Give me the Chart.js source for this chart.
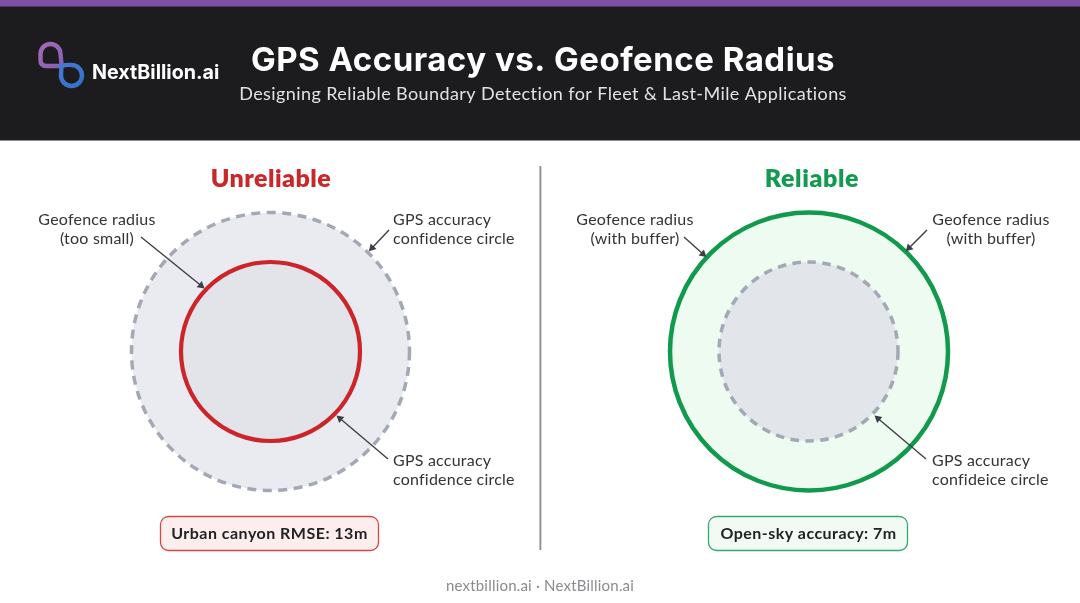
<!DOCTYPE html>
<html><head><meta charset="utf-8">
<style>html,body{margin:0;padding:0;background:#fff;overflow:hidden}#w{position:absolute;left:0;top:0;width:1080px;height:603px}</style>
<script src="https://cdn.jsdelivr.net/npm/chart.js@4"></script></head>
<body><div id="w"><canvas id="c" width="1080" height="603"></canvas></div>
<script>
// Circles (centre x, centre y, radius in image pixels)
const circleNames = ['GPS accuracy (unreliable)','Geofence (too small)','Geofence (with buffer)','GPS accuracy (reliable)'];
const circleX = [270.5,270.5,809,808.5];
const circleY = [351.5,351.5,351.5,351.5];
const circleR = [139,89.5,139,89.5];
const circleFill = ['#e9ebf0','#e3e4e9','#eefbf0','#e2e5e9'];
const circleStroke = ['#a3a8b4','#cc2529','#119a4e','#a3a8b4'];
const circleWidth = [3.5,4.2,4.5,3.5];
const circleDash = [[9,6.5],[],[],[8.5,6.5]];
// Leader arrows: start and head centre
const arrowStartX = [141,389,388,684,927,926];
const arrowStartY = [237,230,459,237,230,459];
const arrowTipX = [201,372,340,703,909,878];
const arrowTipY = [285.5,248,418.5,254,248,418.5];
// Texts
const titleText = 'GPS Accuracy vs. Geofence Radius';
const subtitleText = 'Designing Reliable Boundary Detection for Fleet & Last-Mile Applications';
const brandText = 'NextBillion.ai';
const panelTitles = ['Unreliable','Reliable'];
const pillTexts = ['Urban canyon RMSE: 13m','Open-sky accuracy: 7m'];
const footerText = 'nextbillion.ai · NextBillion.ai';

const BODY = 'Lato, sans-serif';
const labels = [
 ['Geofence radius',97,225,'center'],['(too small)',97,244,'center'],
 ['GPS accuracy',393,225,'left'],['confidence circle',393,244,'left'],
 ['GPS accuracy',393,466,'left'],['confidence circle',393,485,'left'],
 ['Geofence radius',635,225,'center'],['(with buffer)',635,244,'center'],
 ['Geofence radius',991,225,'center'],['(with buffer)',991,244,'center'],
 ['GPS accuracy',932,466,'left'],['confideice circle',932,485,'left']
];

function txt(ctx,s,x,y,font,color,align,ls){
  ctx.font=font;ctx.fillStyle=color;ctx.textAlign=align||'left';ctx.textBaseline='alphabetic';
  ctx.letterSpacing=(ls||0)+'px';ctx.fillText(s,x,y);ctx.letterSpacing='0px';
}
function pill(ctx,x,y,w,h,fill,stroke){
  ctx.beginPath();ctx.roundRect(x,y,w,h,8);ctx.fillStyle=fill;ctx.fill();
  ctx.lineWidth=1.3;ctx.strokeStyle=stroke;ctx.stroke();
}
const backdrop={id:'backdrop',beforeDatasetsDraw(ch){
  const c=ch.ctx;c.save();
  c.fillStyle='#1c1c1e';c.fillRect(0,6,1080,134.5);
  c.fillStyle='#7f4fa5';c.fillRect(0,0,1080,6.5);
  c.fillStyle='#8c8c8c';c.fillRect(539.5,166,1.8,384);
  c.restore();
}};
const dash={id:'dash',
  beforeDatasetDraw(ch,a){const d=ch.data.datasets[a.index];ch.ctx.setLineDash(d.ringDash||[]);},
  afterDatasetDraw(ch){ch.ctx.setLineDash([]);}
};
const texts={id:'texts',afterDraw(ch){
  const c=ch.ctx;c.save();
  // logo
  c.lineWidth=4.4;c.lineCap='round';c.lineJoin='round';
  const gp=c.createLinearGradient(40,44,66,68);gp.addColorStop(0,'#a768bb');gp.addColorStop(0.7,'#8d62b4');gp.addColorStop(1,'#5f70c4');
  c.strokeStyle=gp;c.beginPath();c.moveTo(61.5,64);c.lineTo(60.5,54);c.arc(50.5,54,10,0,Math.PI,true);c.lineTo(40.5,60);
  c.quadraticCurveTo(40.5,66,46.5,66);c.lineTo(62,66);c.stroke();
  const gb=c.createLinearGradient(60,64,82,87);gb.addColorStop(0,'#4a78d4');gb.addColorStop(1,'#2f72c8');
  c.strokeStyle=gb;c.beginPath();c.moveTo(61.5,66);c.lineTo(61,75);c.arc(71.5,75.5,10.5,Math.PI,-Math.PI/2,true);
  c.quadraticCurveTo(66,64.5,62,66);c.stroke();
  txt(c,brandText,92,79,'700 19.7px Inter, sans-serif','#ffffff','left',0);
  txt(c,titleText,543,71,'700 33px Inter, sans-serif','#ffffff','center',0.5);
  txt(c,subtitleText,543,100,'400 18px '+BODY,'#e2e2e2','center',0.41);
  txt(c,panelTitles[0],271,187,'800 25px '+BODY,'#c9282b','center',0.45);
  txt(c,panelTitles[1],812,187,'800 25px '+BODY,'#129a50','center',0.6);
  labels.forEach(l=>txt(c,l[0],l[1],l[2],'400 16px '+BODY,'#333338',l[3],0.22));
  pill(c,160.5,516.5,218,34,'#fdeeee','#cf4a4a');
  pill(c,708.5,516.5,199,34,'#f1fbf4','#3aa377');
  txt(c,pillTexts[0],269.5,539,'700 16px '+BODY,'#222226','center',0.48);
  txt(c,pillTexts[1],808.5,539,'700 16px '+BODY,'#222226','center',0.45);
  txt(c,footerText,540,591,'400 15px '+BODY,'#8b8b8f','center',0.2);
  c.restore();
}};
const rings=circleX.map((x,i)=>({type:'bubble',label:circleNames[i],order:10-i,
  data:[{x,y:circleY[i],r:circleR[i]}],backgroundColor:circleFill[i],borderColor:circleStroke[i],
  borderWidth:circleWidth[i],hoverBorderWidth:circleWidth[i],ringDash:circleDash[i],clip:false}));
const arrows=arrowStartX.map((x,i)=>{
  const dx=arrowTipX[i]-x,dy=arrowTipY[i]-arrowStartY[i];
  return {type:'scatter',showLine:true,order:1,label:'arrow '+i,
   data:[{x,y:arrowStartY[i]},{x:arrowTipX[i],y:arrowTipY[i]}],
   borderColor:'#3c3f46',backgroundColor:'#3c3f46',borderWidth:1.4,
   pointRadius:[0,4.6],pointStyle:'triangle',pointBorderWidth:0,
   pointRotation:Math.atan2(dx,-dy)*180/Math.PI,clip:false};
});
new Chart(document.getElementById('c'),{
  data:{datasets:[...rings,...arrows]},
  options:{responsive:false,animation:false,events:[],devicePixelRatio:1,
    layout:{padding:0,autoPadding:false},
    plugins:{legend:{display:false},tooltip:{enabled:false}},
    scales:{x:{type:'linear',min:0,max:1080,display:false},
            y:{type:'linear',min:0,max:603,reverse:true,display:false}}},
  plugins:[backdrop,dash,texts]
});
</script></body></html>
